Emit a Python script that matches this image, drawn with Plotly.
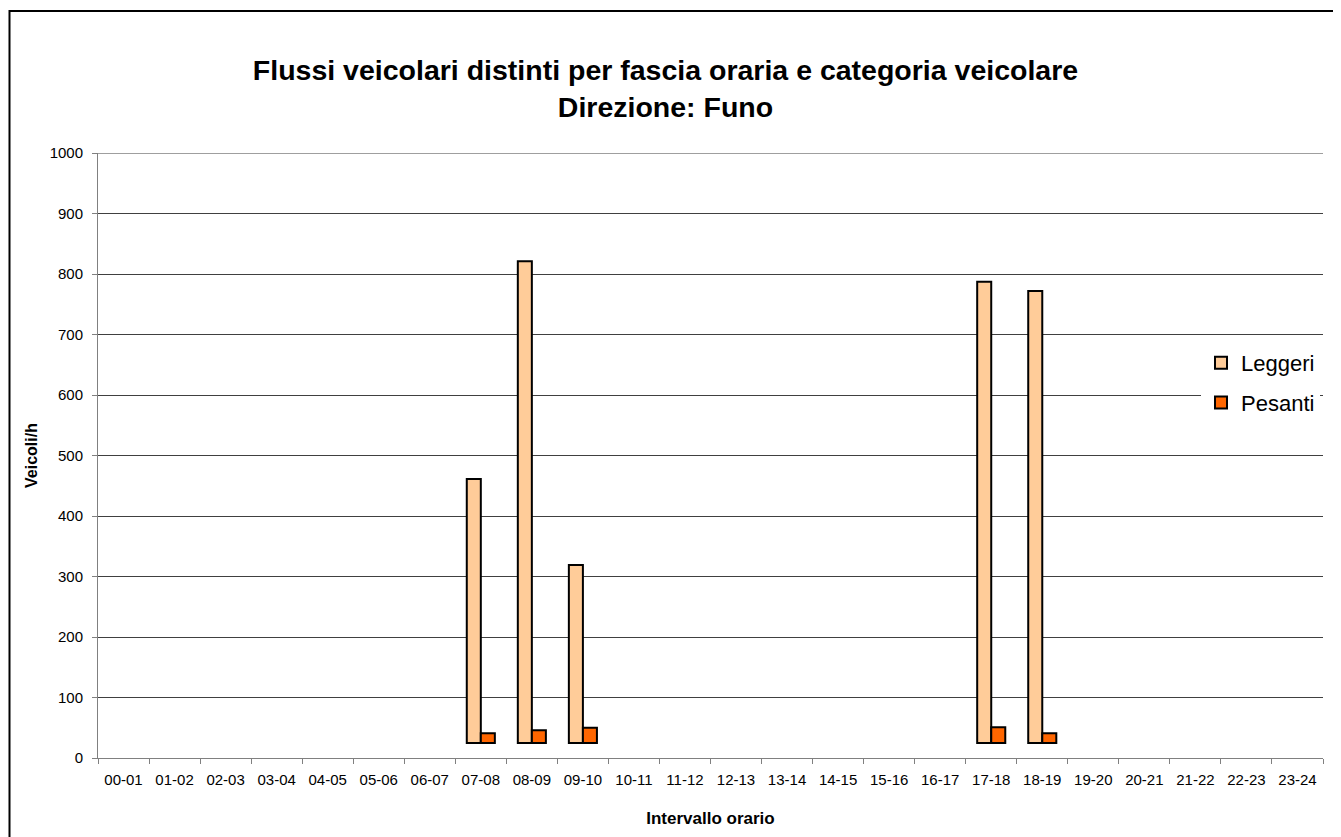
import plotly.graph_objects as go

categories = ["00-01", "01-02", "02-03", "03-04", "04-05", "05-06", "06-07", "07-08",
              "08-09", "09-10", "10-11", "11-12", "12-13", "13-14", "14-15", "15-16",
              "16-17", "17-18", "18-19", "19-20", "20-21", "21-22", "22-23", "23-24"]
leggeri = [None, None, None, None, None, None, None, 461,
           821, 319, None, None, None, None, None, None,
           None, 787, 772, None, None, None, None, None]
pesanti = [None, None, None, None, None, None, None, 41,
           46, 50, None, None, None, None, None, None,
           None, 51, 41, None, None, None, None, None]
FLOOR = 25  # bars in the reference rise from a raised floor (~25)
YMAX = 1000

OFF = 8  # page body margin
W, H = 1341 - OFF, 837 - OFF
# plot area in screenshot coords: x 98..1323, y 153..758
L = 98 - OFF
T = 153 - OFF
R = W - (1323 - OFF)
B = H - (758 - OFF)
pw, ph = W - L - R, H - T - B

def px_x(x):  # screenshot x -> paper
    return (x - OFF - L) / pw

def px_y(y):  # screenshot y -> paper
    return (758 - y) / ph

def shift(vals):
    return [None if v is None else v - FLOOR for v in vals]

fig = go.Figure()
fig.add_trace(go.Bar(x=categories, y=shift(leggeri), base=FLOOR, name="Leggeri",
                     legendgroup="a",
                     marker=dict(color="#FFCC99", line=dict(color="black", width=2))))
fig.add_trace(go.Bar(x=categories, y=shift(pesanti), base=FLOOR, name="Pesanti",
                     legendgroup="b",
                     marker=dict(color="#FF6600", line=dict(color="black", width=2))))

font = "Arial, Liberation Sans, sans-serif"
fig.update_layout(
    width=W, height=H,
    margin=dict(l=L, r=R, t=T, b=B, autoexpand=False),
    paper_bgcolor="white", plot_bgcolor="white",
    barmode="group", bargap=0.45, bargroupgap=0,
    font=dict(family=font, color="black"),
    title=dict(text="<b>Flussi veicolari distinti per fascia oraria e categoria veicolare<br>Direzione: Funo</b>",
               x=(665.5 - OFF) / W, xanchor="center", y=1 - (79.5 - OFF) / H, yanchor="middle",
               font=dict(size=28.5, family=font, color="black")),
    showlegend=True,
    legend=dict(x=px_x(1201), y=px_y(342), xanchor="left", yanchor="top",
                bgcolor="white", borderwidth=0, font=dict(size=22, family=font),
                traceorder="grouped", tracegroupgap=8, itemwidth=30),
    xaxis=dict(type="category", showgrid=False, showline=True, linecolor="#808080", linewidth=1,
               ticks="outside", tickson="boundaries", ticklen=5, tickcolor="#808080",
               tickfont=dict(size=15, family=font), automargin=False, ticklabelstandoff=8,
               title=dict(text="<b>Intervallo orario</b>", font=dict(size=17, family=font), standoff=25)),
    yaxis=dict(range=[0, YMAX], dtick=100, showgrid=True, gridcolor="#404040", gridwidth=1,
               showline=True, linecolor="#808080", linewidth=1, ticks="outside", ticklen=5,
               tickcolor="#808080", tickfont=dict(size=15, family=font), zeroline=False,
               automargin=False, ticklabelstandoff=6,
               title=dict(text="<b>Veicoli/h</b>", font=dict(size=16, family=font), standoff=8)),
    shapes=[
        dict(type="rect", xref="paper", yref="paper",
             x0=px_x(9.5), x1=px_x(1341 + 20),
             y0=px_y(837 + 20), y1=px_y(11),
             line=dict(color="black", width=2), fillcolor="rgba(0,0,0,0)", layer="below"),
        dict(type="line", xref="paper", yref="y", x0=0, x1=1, y0=YMAX, y1=YMAX,
             line=dict(color="#404040", width=1), layer="below"),
    ],
)

fig.write_html("out.html")
